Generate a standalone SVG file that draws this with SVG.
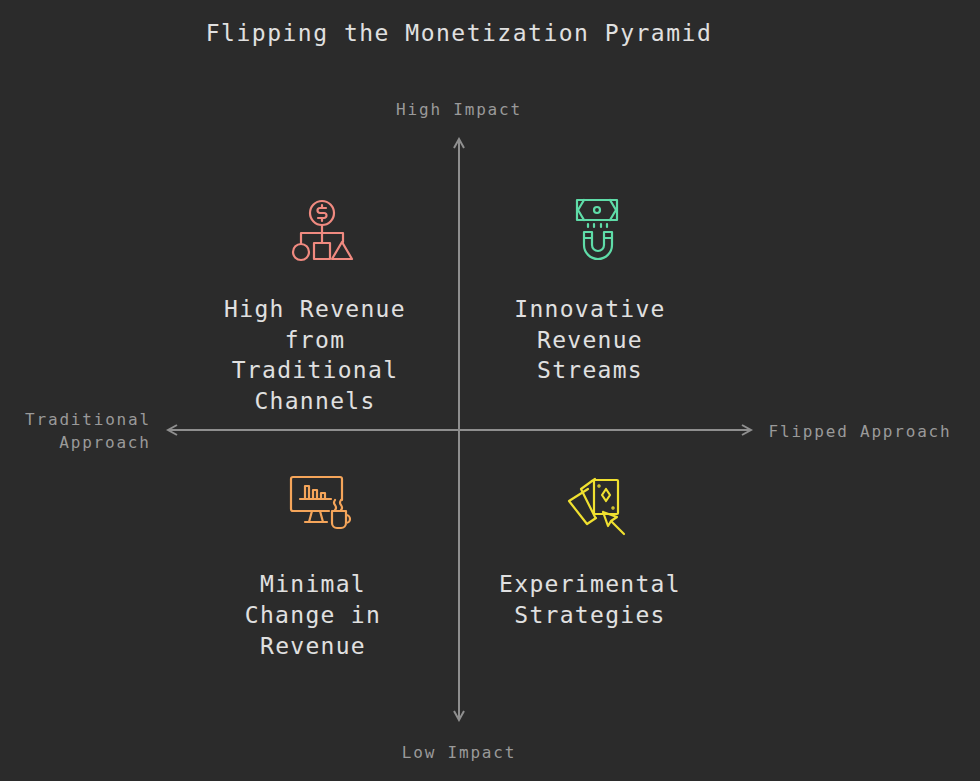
<svg xmlns="http://www.w3.org/2000/svg" width="980" height="781" viewBox="0 0 980 781">
<defs>
<style>
.t{font-family:"DejaVu Sans Mono","Liberation Mono",monospace;fill:#e0e0e0;font-size:23px;letter-spacing:1.3px;text-anchor:middle}
.a{font-family:"DejaVu Sans Mono","Liberation Mono",monospace;fill:#9a9a9a;font-size:16px;letter-spacing:1.8px;text-anchor:middle}
.ax{stroke:#8f8f8f;stroke-width:2;fill:none}
.i{fill:none;stroke-width:2.2;stroke-linejoin:round;stroke-linecap:round}
</style>
<marker id="ar" viewBox="0 0 12 12" refX="10" refY="6" markerWidth="12" markerHeight="12" markerUnits="userSpaceOnUse" orient="auto-start-reverse"><path d="M1,1 L10,6 L1,11" fill="none" stroke="#8f8f8f" stroke-width="2"/></marker>
</defs>
<rect width="980" height="781" fill="#2b2b2b"/>
<text x="459" y="41" class="t" style="font-size:23px;letter-spacing:1.5px">Flipping the Monetization Pyramid</text>
<g id="connectors">
<line x1="459" y1="139" x2="459" y2="720" class="ax" marker-start="url(#ar)" marker-end="url(#ar)"/>
<line x1="168" y1="430" x2="751" y2="430" class="ax" marker-start="url(#ar)" marker-end="url(#ar)"/>
</g>
<g id="axis-labels">
<text x="459" y="115" class="a">High Impact</text>
<text x="459" y="758" class="a">Low Impact</text>
<text x="88" y="425" class="a">Traditional</text>
<text x="105" y="448" class="a">Approach</text>
<text x="860" y="437" class="a">Flipped Approach</text>
</g>
<g id="q1">
<g class="i" stroke="#f08a80">
<circle cx="322" cy="213" r="12"/>
<path d="M326,208 h-6 a2.5,2.5 0 0 0 0,5 h4 a2.5,2.5 0 0 1 0,5 h-6 M322,205 v3 M322,218 v3"/>
<path d="M322,225 v8 M301,244 v-11 h42 v9 M322,233 v10"/>
<circle cx="301" cy="252" r="8"/>
<rect x="314" y="243" width="16" height="16"/>
<path d="M342,242 L352,259 H332 Z"/>
</g>
<text x="315" y="317" class="t">High Revenue</text>
<text x="315" y="348" class="t">from</text>
<text x="315" y="378" class="t">Traditional</text>
<text x="315" y="409" class="t">Channels</text>
</g>
<g id="q2">
<g class="i" stroke="#5fdca8">
<rect x="577" y="200" width="40" height="20"/>
<path d="M584,200 l-6,10 l6,10 M610,200 l6,10 l-6,10"/>
<circle cx="597" cy="210" r="3"/>
<path d="M588,224 v3 M594,224 v3 M601,224 v3 M607,224 v3"/>
<path d="M584,232 v13 a14,14 0 0 0 28,0 v-13 h-8 v13 a6,6 0 0 1 -12,0 v-13 Z M584,238 h8 M604,238 h8"/>
</g>
<text x="590" y="317" class="t">Innovative</text>
<text x="590" y="348" class="t">Revenue</text>
<text x="590" y="378" class="t">Streams</text>
</g>
<g id="q3">
<g class="i" stroke="#f5a55a">
<path d="M329,511 H293 a2,2 0 0 1 -2,-2 V479 a2,2 0 0 1 2,-2 H340 a2,2 0 0 1 2,2 V500"/>
<path d="M300,499 H331 M305,499 V486 h4 v13 M313,499 V490 h4 v9 M321,499 V493 h4 v6"/>
<path d="M312,511 l-3,11 M320,511 l3,11 M305,522 h22"/>
<path d="M332,511 h14 v12 a5,5 0 0 1 -5,5 h-4 a5,5 0 0 1 -5,-5 Z M346,515 a4,4 0 0 1 0,8"/>
<path d="M335,500 q-2,3 0,5 q2,3 0,5 M341,500 q-2,3 0,5 q2,3 0,5"/>
</g>
<text x="313" y="592" class="t">Minimal</text>
<text x="313" y="623" class="t">Change in</text>
<text x="313" y="654" class="t">Revenue</text>
</g>
<g id="q4">
<g class="i" stroke="#f0e030">
<path d="M588,489 l-19,12 l18,23 l9,-6"/>
<path d="M592,481 l-11,8 l14,28"/>
<path d="M595,479 l-3,2"/>
<rect x="594" y="480" width="24" height="34" rx="1"/>
<path d="M606,489 l4,6 l-4,6 l-4,-6 Z"/>
<circle cx="599" cy="486" r="0.6"/><circle cx="613" cy="508" r="0.6"/>
<path d="M603,512 l5,14 l3,-5 l13,13 M603,512 l14,5 l-6,4"/>
</g>
<text x="590" y="592" class="t">Experimental</text>
<text x="590" y="623" class="t">Strategies</text>
</g>
</svg>
